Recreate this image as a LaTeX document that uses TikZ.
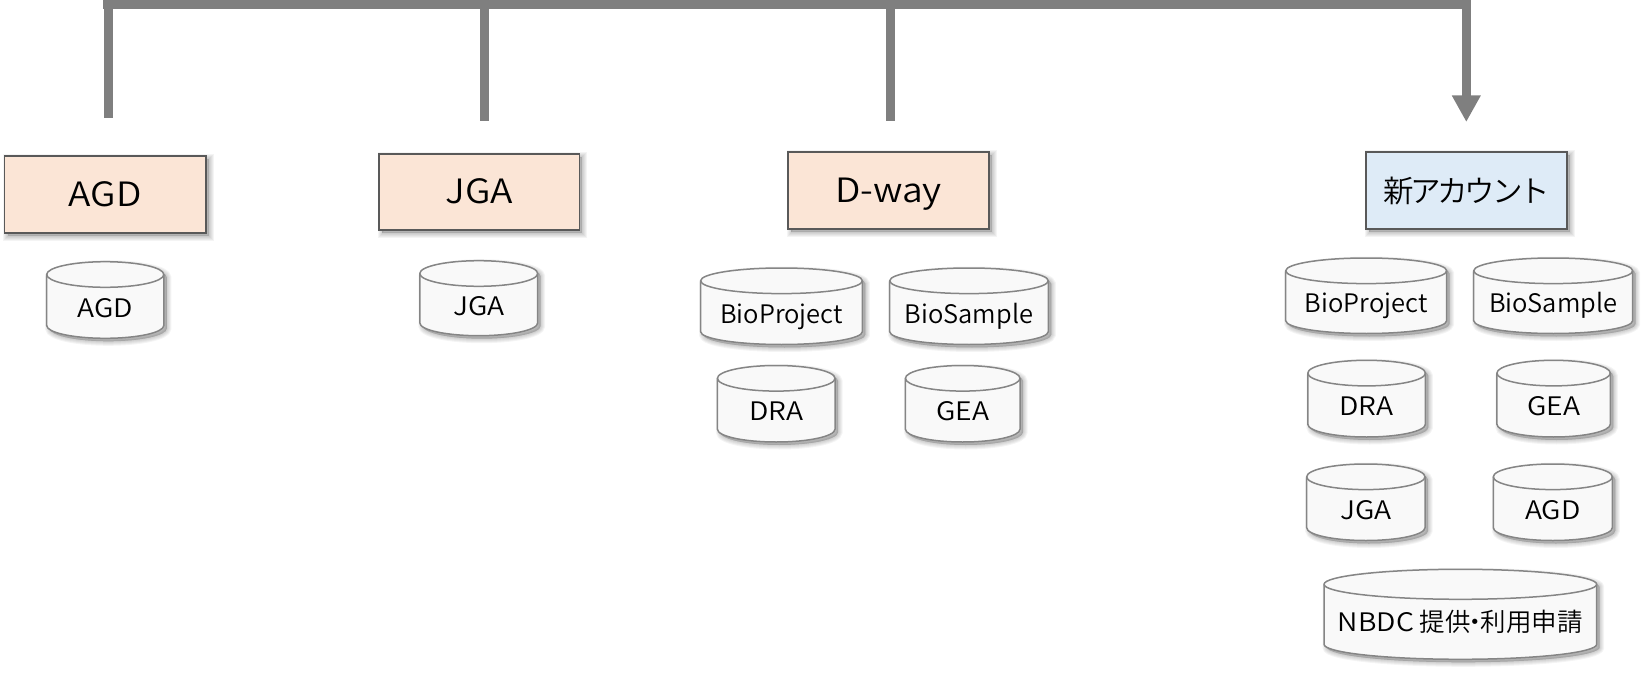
\documentclass[tikz,border=0pt]{standalone}
\usepackage{fontspec}
\setmainfont{Noto Sans CJK JP}[UprightFont=* DemiLight]
\newfontfamily\capsfont{Noto Sans CJK JP}[UprightFont=* DemiLight,FakeStretch=1.11]
\usetikzlibrary{arrows.meta}
\definecolor{busgray}{HTML}{7F7F7F}
\definecolor{peach}{HTML}{FBE5D6}
\definecolor{paleblue}{HTML}{DEEBF7}
\definecolor{boxline}{HTML}{595959}
\definecolor{cylfill}{HTML}{F9F9F9}
\definecolor{cylline}{HTML}{858585}
\tikzset{
  x=1pt,y=-1pt,
  bus/.style={draw=busgray,line width=8.6pt},
  softlayer/.style={draw=black,fill=black,draw opacity=.045,fill opacity=.045,line width=#1},
  bigbox/.style={draw=boxline,line width=1.5pt,inner sep=0pt,outer sep=0pt,text=black,text height=24pt,text depth=0pt,font=\capsfont\fontsize{33.5}{36}\selectfont},
  cylbody/.style={draw=cylline,fill=cylfill,line width=1.5pt},
  cyltext/.style={anchor=base,inner sep=0pt,text=black,font=\fontsize{25.5}{28}\selectfont},
}
% #1 name, #2 x1, #3 y1, #4 x2, #5 y2, #6 fill, #7 text
\newcommand{\bigbox}[7]{%
  \foreach \w in {9,7,5,3,1}{\path[softlayer=\w pt] (#2+3,#3+3) rectangle (#4+3,#5+3);}
  \pgfmathsetmacro{\bw}{#4-#2}\pgfmathsetmacro{\bh}{#5-#3}
  \node[bigbox,fill=#6,minimum width=\bw pt,minimum height=\bh pt] (#1) at ({(#2+#4)/2},{(#3+#5)/2}) {#7};
}
\newcommand{\cylshape}{%
  (\xa,\ya+\rr) .. controls (\xa,\ya+\rr-\kr) and (\cx-\kx,\ya) .. (\cx,\ya)
  .. controls (\cx+\kx,\ya) and (\xb,\ya+\rr-\kr) .. (\xb,\ya+\rr)
  -- (\xb,\yb-\rr) .. controls (\xb,\yb-\rr+\kr) and (\cx+\kx,\yb) .. (\cx,\yb)
  .. controls (\cx-\kx,\yb) and (\xa,\yb-\rr+\kr) .. (\xa,\yb-\rr) -- cycle}
% #1 name, #2 x1, #3 y1, #4 x2, #5 y2, #6 lid radius, #7 text
\newcommand{\dbcyl}[7]{%
  \pgfmathsetmacro{\xa}{#2}\pgfmathsetmacro{\ya}{#3}\pgfmathsetmacro{\xb}{#4}\pgfmathsetmacro{\yb}{#5}
  \pgfmathsetmacro{\rr}{#6}\pgfmathsetmacro{\kr}{.5523*#6}
  \pgfmathsetmacro{\cx}{(#2+#4)/2}\pgfmathsetmacro{\kx}{.5523*(#4-#2)/2}
  \pgfmathsetmacro{\cy}{(#3+#5)/2}
  \foreach \w in {9,7,5,3,1}{\begin{scope}[shift={(3,3)}]\path[softlayer=\w pt] \cylshape;\end{scope}}
  \path[cylbody] \cylshape;
  \draw[cylline,line width=1.5pt] (\xa,\ya+\rr) .. controls (\xa,\ya+\rr+\kr) and (\cx-\kx,\ya+2*\rr) .. (\cx,\ya+2*\rr)
     .. controls (\cx+\kx,\ya+2*\rr) and (\xb,\ya+\rr+\kr) .. (\xb,\ya+\rr);
  \node[cyltext] (#1) at (\cx,\cy+17) {#7};
}
\begin{document}
\begin{tikzpicture}
\useasboundingbox (0,0) rectangle (1647,674);
% connector
\coordinate (busL) at (103.3,4.3);
\coordinate (busR) at (1470.5,4.3);
\coordinate (drop1top) at (108.5,4.3);
\coordinate (drop2top) at (484.5,4.3);
\coordinate (drop3top) at (890.7,4.3);
\coordinate (drop4top) at (1466.3,4.3);
\coordinate (drop1end) at (108.5,118);
\coordinate (drop2end) at (484.5,121);
\coordinate (drop3end) at (890.7,121);
\coordinate (drop4end) at (1466.3,122);
\draw[bus] (drop1top) -- (drop1end);
\draw[bus] (drop2top) -- (drop2end);
\draw[bus] (drop3top) -- (drop3end);
\draw[bus,-{Triangle[length=26.5pt,width=27pt,fill=busgray]}] (drop4top) -- (drop4end);
\draw[bus] (busL) -- (busR);
% group boxes
\bigbox{bAGD}{4.6}{156}{206}{233}{peach}{AGD}
\bigbox{bJGA}{379}{154}{579.4}{230}{peach}{JGA}
\bigbox{bDway}{788}{152}{989}{229}{peach}{D-way}
\bigbox{bNew}{1366}{152}{1567}{229}{paleblue}{\rmfamily\addfontfeature{LetterSpace=-11}\fontsize{30.5}{36}\selectfont 新アカウント}
% databases
\dbcyl{cAGD}{46.7}{261.7}{163.8}{338.3}{12.8}{\capsfont AGD}
\dbcyl{cJGA}{419.8}{260.7}{537.7}{335.7}{12.8}{\capsfont JGA}
\dbcyl{dBP}{700.6}{268}{862.4}{344.5}{12.8}{BioProject}
\dbcyl{dBS}{889.7}{268}{1048.3}{344.5}{12.8}{BioSample}
\dbcyl{dDRA}{717.4}{365.5}{835}{442}{12.8}{\capsfont DRA}
\dbcyl{dGEA}{905.4}{365.5}{1020}{442}{12.8}{\capsfont GEA}
\dbcyl{nBP}{1285.7}{258}{1446.7}{333.5}{12.8}{BioProject}
\dbcyl{nBS}{1473.7}{258}{1632.7}{333.5}{12.8}{BioSample}
\dbcyl{nDRA}{1307.8}{360.3}{1425.4}{437}{12.8}{\capsfont DRA}
\dbcyl{nGEA}{1496.9}{360.3}{1610.3}{437}{12.8}{\capsfont GEA}
\dbcyl{nJGA}{1306.7}{464}{1425}{540.5}{12.8}{\capsfont JGA}
\dbcyl{nAGD}{1493.3}{464}{1612.3}{540.5}{12.8}{\capsfont AGD}
\dbcyl{nNBDC}{1324}{569.3}{1596.7}{659.3}{15}{{\capsfont NBDC} 提供\kern-.3em・\kern-.3em利用申請}
\end{tikzpicture}
\end{document}
